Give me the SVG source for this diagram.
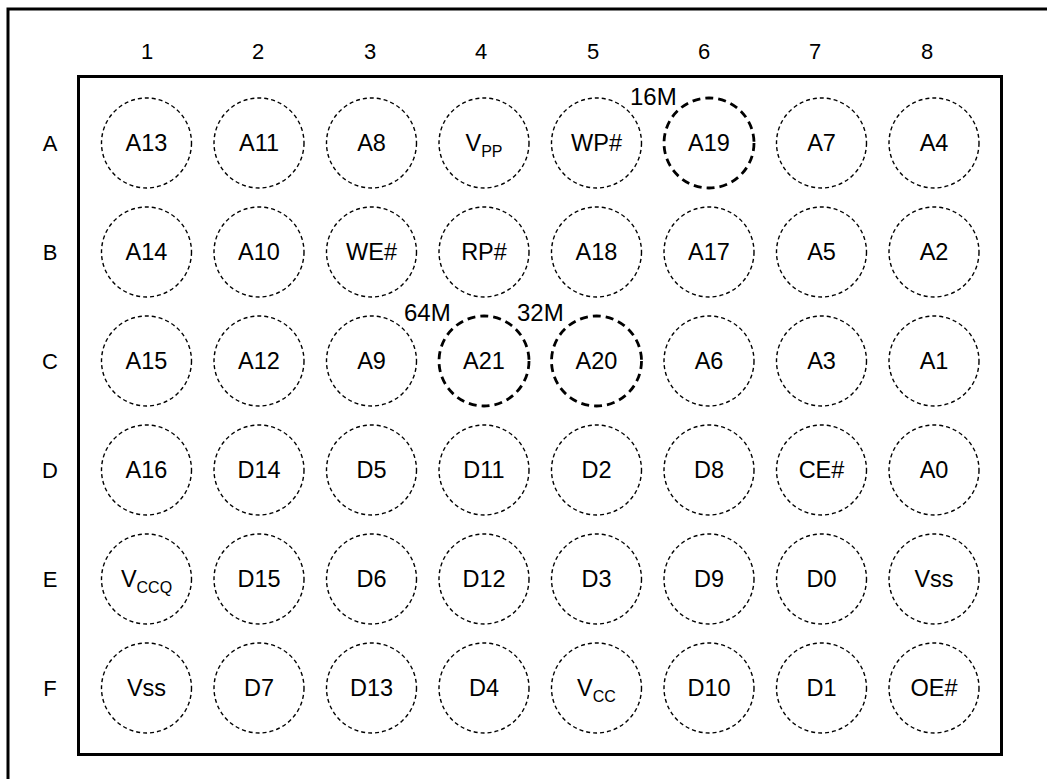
<svg xmlns="http://www.w3.org/2000/svg" width="1047" height="779" viewBox="0 0 1047 779">
<style>
text{font-family:"Liberation Sans",Arial,sans-serif;fill:#000}
.pin{fill:none;stroke:#000;stroke-width:1.4;stroke-dasharray:4 3}
.opt{fill:none;stroke:#000;stroke-width:2.8;stroke-dasharray:8 5}
.lbl{font-size:23.5px;text-anchor:middle}
.hdr{font-size:22px;text-anchor:middle}
.sub{font-size:16px}
.den{font-size:24px}
</style>
<rect width="1047" height="779" fill="#fff"/>
<rect x="8" y="9" width="1100" height="900" fill="none" stroke="#000" stroke-width="3"/>
<rect id="package" x="78.5" y="76.5" width="923" height="678" fill="none" stroke="#000" stroke-width="3"/>
<g id="col-labels" class="hdr">
<text x="147" y="59">1</text><text x="258" y="59">2</text><text x="370" y="59">3</text><text x="481" y="59">4</text>
<text x="593" y="59">5</text><text x="704" y="59">6</text><text x="815" y="59">7</text><text x="927" y="59">8</text>
</g>
<g id="row-labels" class="hdr">
<text x="50" y="151">A</text><text x="50" y="260">B</text><text x="50" y="369">C</text>
<text x="50" y="478">D</text><text x="50" y="587">E</text><text x="50" y="696">F</text>
</g>
<g id="density-labels" class="den">
<text x="630" y="105">16M</text>
<text x="404" y="321">64M</text>
<text x="517" y="321">32M</text>
</g>
<g id="connectors"></g>
<!-- Row A y=143 -->
<g id="A1"><circle class="pin" cx="146.5" cy="143" r="45"/><text class="lbl" x="146.5" y="151">A13</text></g>
<g id="A2"><circle class="pin" cx="259" cy="143" r="45"/><text class="lbl" x="259" y="151">A11</text></g>
<g id="A3"><circle class="pin" cx="371.5" cy="143" r="45"/><text class="lbl" x="371.5" y="151">A8</text></g>
<g id="A4"><circle class="pin" cx="484" cy="143" r="45"/><text class="lbl" x="484" y="151">V<tspan class="sub" dy="6">PP</tspan></text></g>
<g id="A5"><circle class="pin" cx="596.5" cy="143" r="45"/><text class="lbl" x="596.5" y="151">WP#</text></g>
<g id="A6"><circle class="opt" cx="709" cy="143" r="45"/><text class="lbl" x="709" y="151">A19</text></g>
<g id="A7"><circle class="pin" cx="821.5" cy="143" r="45"/><text class="lbl" x="821.5" y="151">A7</text></g>
<g id="A8"><circle class="pin" cx="934" cy="143" r="45"/><text class="lbl" x="934" y="151">A4</text></g>
<!-- Row B y=252 -->
<g id="B1"><circle class="pin" cx="146.5" cy="252" r="45"/><text class="lbl" x="146.5" y="260">A14</text></g>
<g id="B2"><circle class="pin" cx="259" cy="252" r="45"/><text class="lbl" x="259" y="260">A10</text></g>
<g id="B3"><circle class="pin" cx="371.5" cy="252" r="45"/><text class="lbl" x="371.5" y="260">WE#</text></g>
<g id="B4"><circle class="pin" cx="484" cy="252" r="45"/><text class="lbl" x="484" y="260">RP#</text></g>
<g id="B5"><circle class="pin" cx="596.5" cy="252" r="45"/><text class="lbl" x="596.5" y="260">A18</text></g>
<g id="B6"><circle class="pin" cx="709" cy="252" r="45"/><text class="lbl" x="709" y="260">A17</text></g>
<g id="B7"><circle class="pin" cx="821.5" cy="252" r="45"/><text class="lbl" x="821.5" y="260">A5</text></g>
<g id="B8"><circle class="pin" cx="934" cy="252" r="45"/><text class="lbl" x="934" y="260">A2</text></g>
<!-- Row C y=361 -->
<g id="C1"><circle class="pin" cx="146.5" cy="361" r="45"/><text class="lbl" x="146.5" y="369">A15</text></g>
<g id="C2"><circle class="pin" cx="259" cy="361" r="45"/><text class="lbl" x="259" y="369">A12</text></g>
<g id="C3"><circle class="pin" cx="371.5" cy="361" r="45"/><text class="lbl" x="371.5" y="369">A9</text></g>
<g id="C4"><circle class="opt" cx="484" cy="361" r="45"/><text class="lbl" x="484" y="369">A21</text></g>
<g id="C5"><circle class="opt" cx="596.5" cy="361" r="45"/><text class="lbl" x="596.5" y="369">A20</text></g>
<g id="C6"><circle class="pin" cx="709" cy="361" r="45"/><text class="lbl" x="709" y="369">A6</text></g>
<g id="C7"><circle class="pin" cx="821.5" cy="361" r="45"/><text class="lbl" x="821.5" y="369">A3</text></g>
<g id="C8"><circle class="pin" cx="934" cy="361" r="45"/><text class="lbl" x="934" y="369">A1</text></g>
<!-- Row D y=470 -->
<g id="D1"><circle class="pin" cx="146.5" cy="470" r="45"/><text class="lbl" x="146.5" y="478">A16</text></g>
<g id="D2"><circle class="pin" cx="259" cy="470" r="45"/><text class="lbl" x="259" y="478">D14</text></g>
<g id="D3"><circle class="pin" cx="371.5" cy="470" r="45"/><text class="lbl" x="371.5" y="478">D5</text></g>
<g id="D4"><circle class="pin" cx="484" cy="470" r="45"/><text class="lbl" x="484" y="478">D11</text></g>
<g id="D5"><circle class="pin" cx="596.5" cy="470" r="45"/><text class="lbl" x="596.5" y="478">D2</text></g>
<g id="D6"><circle class="pin" cx="709" cy="470" r="45"/><text class="lbl" x="709" y="478">D8</text></g>
<g id="D7"><circle class="pin" cx="821.5" cy="470" r="45"/><text class="lbl" x="821.5" y="478">CE#</text></g>
<g id="D8"><circle class="pin" cx="934" cy="470" r="45"/><text class="lbl" x="934" y="478">A0</text></g>
<!-- Row E y=579 -->
<g id="E1"><circle class="pin" cx="146.5" cy="579" r="45"/><text class="lbl" x="146.5" y="587">V<tspan class="sub" dy="6">CCQ</tspan></text></g>
<g id="E2"><circle class="pin" cx="259" cy="579" r="45"/><text class="lbl" x="259" y="587">D15</text></g>
<g id="E3"><circle class="pin" cx="371.5" cy="579" r="45"/><text class="lbl" x="371.5" y="587">D6</text></g>
<g id="E4"><circle class="pin" cx="484" cy="579" r="45"/><text class="lbl" x="484" y="587">D12</text></g>
<g id="E5"><circle class="pin" cx="596.5" cy="579" r="45"/><text class="lbl" x="596.5" y="587">D3</text></g>
<g id="E6"><circle class="pin" cx="709" cy="579" r="45"/><text class="lbl" x="709" y="587">D9</text></g>
<g id="E7"><circle class="pin" cx="821.5" cy="579" r="45"/><text class="lbl" x="821.5" y="587">D0</text></g>
<g id="E8"><circle class="pin" cx="934" cy="579" r="45"/><text class="lbl" x="934" y="587">Vss</text></g>
<!-- Row F y=688 -->
<g id="F1"><circle class="pin" cx="146.5" cy="688" r="45"/><text class="lbl" x="146.5" y="696">Vss</text></g>
<g id="F2"><circle class="pin" cx="259" cy="688" r="45"/><text class="lbl" x="259" y="696">D7</text></g>
<g id="F3"><circle class="pin" cx="371.5" cy="688" r="45"/><text class="lbl" x="371.5" y="696">D13</text></g>
<g id="F4"><circle class="pin" cx="484" cy="688" r="45"/><text class="lbl" x="484" y="696">D4</text></g>
<g id="F5"><circle class="pin" cx="596.5" cy="688" r="45"/><text class="lbl" x="596.5" y="696">V<tspan class="sub" dy="6">CC</tspan></text></g>
<g id="F6"><circle class="pin" cx="709" cy="688" r="45"/><text class="lbl" x="709" y="696">D10</text></g>
<g id="F7"><circle class="pin" cx="821.5" cy="688" r="45"/><text class="lbl" x="821.5" y="696">D1</text></g>
<g id="F8"><circle class="pin" cx="934" cy="688" r="45"/><text class="lbl" x="934" y="696">OE#</text></g>
</svg>
